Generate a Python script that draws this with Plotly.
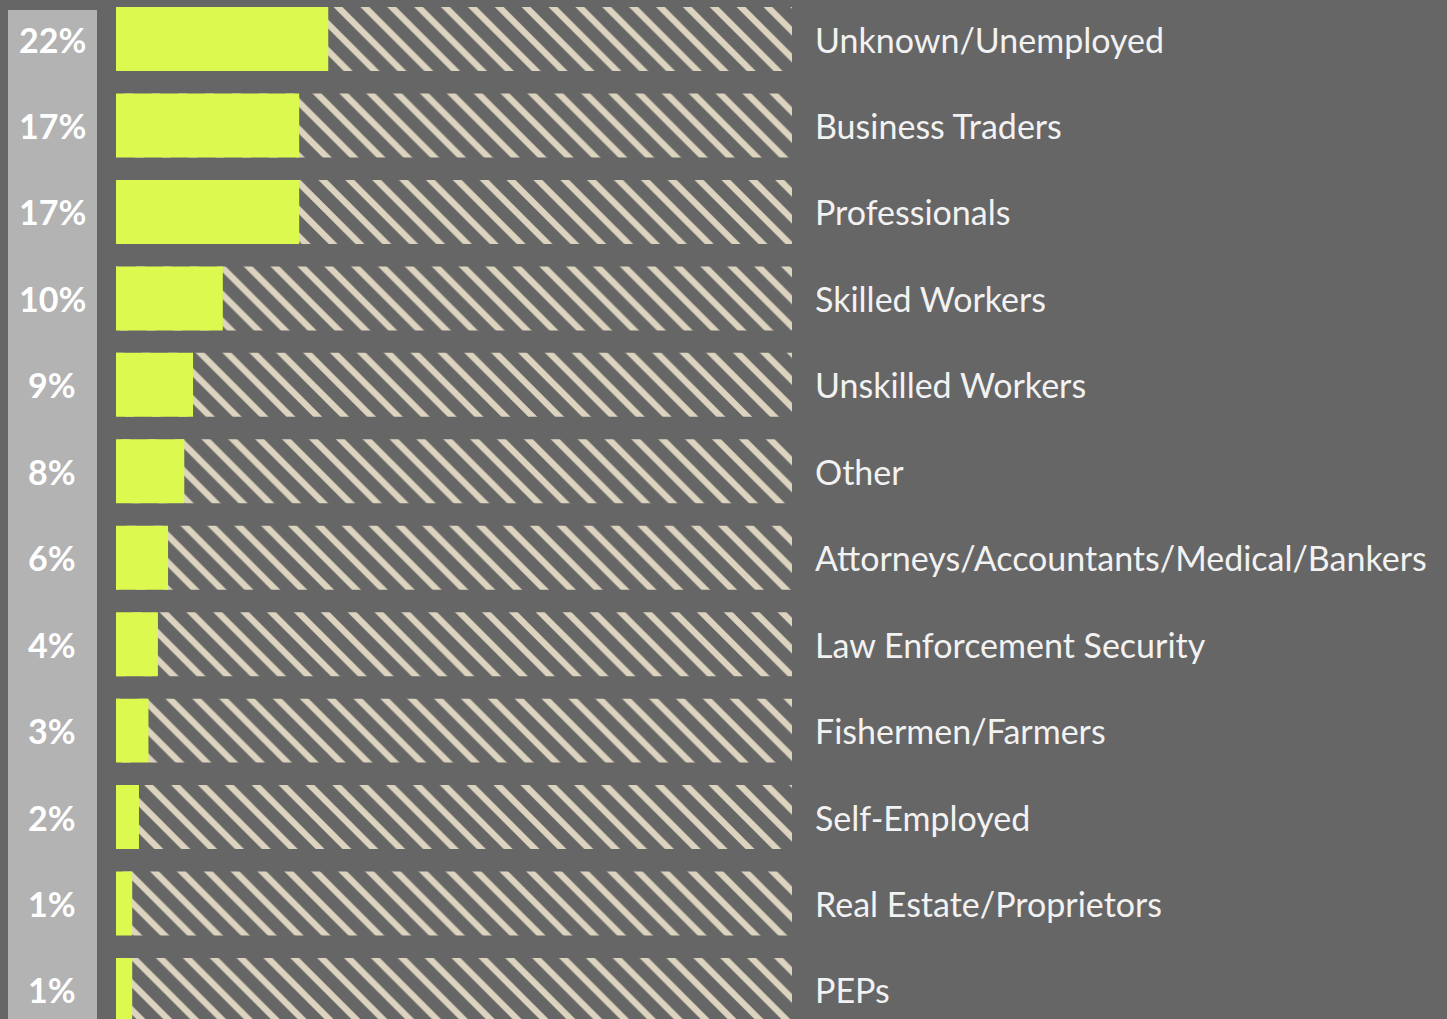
import plotly.graph_objects as go

categories = ["Unknown/Unemployed", "Business Traders", "Professionals", "Skilled Workers",
              "Unskilled Workers", "Other", "Attorneys/Accountants/Medical/Bankers",
              "Law Enforcement Security", "Fishermen/Farmers", "Self-Employed",
              "Real Estate/Proprietors", "PEPs"]
pct_labels = ["22%", "17%", "17%", "10%", "9%", "8%", "6%", "4%", "3%", "2%", "1%", "1%"]
# lime bar lengths as drawn, relative to the full hatched track (=100)
bar_lengths = [31.4, 27.1, 27.1, 15.8, 11.4, 10.1, 7.7, 6.2, 4.8, 3.4, 2.4, 2.4]
track = [100] * len(categories)

W, H = 1447, 1019
BG = "#666666"
LIME = "#dcf94f"
HATCH = "#ddd4c0"

fig = go.Figure()
fig.add_trace(go.Bar(
    y=categories, x=track, orientation="h",
    marker=dict(color=BG, line=dict(width=0),
                pattern=dict(shape="\\", fgcolor=HATCH, fgopacity=1, bgcolor=BG,
                             size=19, solidity=0.33)),
    hoverinfo="skip", showlegend=False))
fig.add_trace(go.Bar(
    y=categories, x=bar_lengths, orientation="h",
    marker=dict(color=LIME, line=dict(width=0)),
    showlegend=False))

n = len(categories)
sp = (990 - 41) / (n - 1)
top = -39 / sp
bottom = (n - 1) + (H - 990) / sp

fig.update_layout(
    width=W, height=H,
    paper_bgcolor=BG, plot_bgcolor=BG,
    margin=dict(l=0, r=0, t=0, b=0),
    barmode="overlay", bargap=0.26,
    xaxis=dict(domain=[116 / W, 792 / W], range=[0, 100], visible=False, fixedrange=True),
    yaxis=dict(type="category", categoryorder="array", categoryarray=categories,
               range=[bottom, top], visible=False),
    shapes=[dict(type="rect", xref="paper", yref="paper",
                 x0=8 / W, x1=97 / W, y0=0, y1=1 - 10 / H,
                 fillcolor="#b3b3b3", line=dict(width=0), layer="below")],
)

for cat, p in zip(categories, pct_labels):
    fig.add_annotation(xref="paper", yref="y", x=52 / W, y=cat, text=p, showarrow=False,
                       xanchor="center", yanchor="middle",
                       font=dict(family="Lato", size=34, color="white", weight="bold"))
    fig.add_annotation(xref="paper", yref="y", x=813 / W, y=cat, text=cat, showarrow=False,
                       xanchor="left", yanchor="middle",
                       font=dict(family="Lato", size=34, color="#f2f2f2"))

fig.write_html("out.html", config={"displayModeBar": False},
               post_script="document.body.style.margin='0';document.body.style.background='#666666';")
